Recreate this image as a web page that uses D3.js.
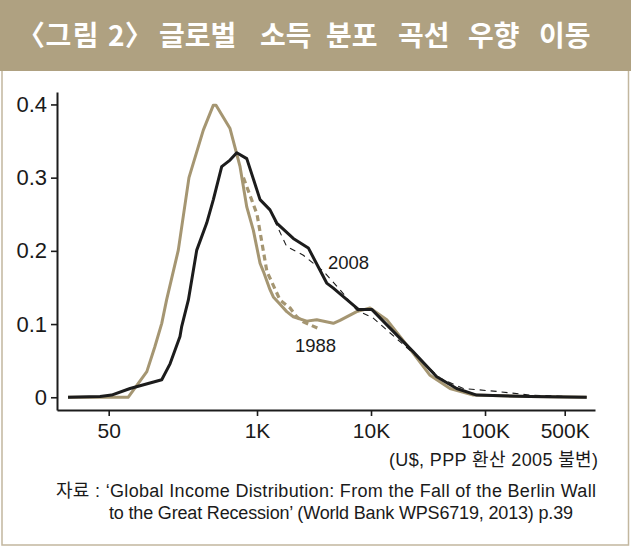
<!DOCTYPE html>
<html>
<head>
<meta charset="utf-8">
<script src="https://cdn.jsdelivr.net/npm/d3@7"></script>
<style>
  html, body { margin: 0; padding: 0; background: #fff; }
  svg { display: block; }
  text { font-family: "Liberation Sans", Arial, "Noto Sans CJK KR", sans-serif; }
</style>
</head>
<body>
<svg id="chart" width="631" height="547"></svg>
<script>
// ---- data (income in US$ PPP 2005, density) ----
const titleTokens = ["〈그림 2〉 ", "글로벌 ", "소득 ", "분포 ", "곡선 ", "우향 ", "이동"];
const unitText = "(U$, PPP 환산 2005 불변)";
const sourceLine1 = "자료 : ‘Global Income Distribution: From the Fall of the Berlin Wall";
const sourceLine2 = "to the Great Recession’ (World Bank WPS6719, 2013) p.39";

const xTickValues = [50, 1000, 10000, 100000, 500000];
const xTickLabels = ["50", "1K", "10K", "100K", "500K"];
const yTickValues = [0, 0.1, 0.2, 0.3, 0.4];
const yTickLabels = ["0", "0.1", "0.2", "0.3", "0.4"];

const income1988 = [22, 74, 108, 127, 146, 161, 204, 253, 338, 414, 437, 580, 710, 813, 929, 1063, 1136, 1300, 1390, 1592, 1823, 2080, 2728, 3340, 4670, 5343, 7493, 9795, 13730, 23500, 32950, 49300, 78900, 248000, 780000];
const density1988 = [0, 0, 0.035, 0.069, 0.101, 0.133, 0.201, 0.300, 0.365, 0.399, 0.399, 0.367, 0.315, 0.260, 0.228, 0.183, 0.172, 0.147, 0.137, 0.127, 0.117, 0.110, 0.104, 0.106, 0.101, 0.105, 0.117, 0.122, 0.106, 0.060, 0.030, 0.012, 0.003, 0.001, 0];

const income2008 = [22, 42, 53, 77, 146, 173, 211, 218, 250, 296, 362, 414, 490, 580, 664, 813, 1063, 1300, 1489, 2080, 2818, 3450, 4085, 4670, 7744, 10140, 23500, 37700, 56400, 84500, 248000, 780000];
const density2008 = [0, 0.001, 0.003, 0.012, 0.024, 0.046, 0.083, 0.096, 0.133, 0.201, 0.238, 0.270, 0.315, 0.324, 0.334, 0.326, 0.270, 0.256, 0.238, 0.217, 0.204, 0.178, 0.156, 0.149, 0.120, 0.120, 0.062, 0.028, 0.012, 0.003, 0.001, 0];

// dashed alternative estimates
const income1988alt = [760, 1000, 1220, 1590, 1950, 2230, 2550, 3450];
const density1988alt = [0.300, 0.250, 0.172, 0.133, 0.122, 0.110, 0.103, 0.094];

const income2008alt = [1300, 1490, 1820, 2550, 3820, 5340, 7490, 10470, 23500, 40300, 64500, 126700, 248000, 780000];
const density2008alt = [0.256, 0.235, 0.206, 0.194, 0.172, 0.147, 0.119, 0.108, 0.060, 0.026, 0.012, 0.008, 0.003, 0];

// ---- drawing ----
const svg = d3.select("#chart");
const W = 631, H = 547;
const tan = "#afa181";
const gold = "#a59672";
const ink = "#1c1c1c";

// panel borders
svg.append("rect").attr("x", 0).attr("y", 0).attr("width", W).attr("height", H).attr("fill", "#fff");
svg.append("path")
  .attr("d", `M2,71 V545 H628.5 V71`)
  .attr("fill", "none").attr("stroke", "#c2b79f").attr("stroke-width", 1.5);

// title banner
svg.append("rect").attr("x", 0).attr("y", 0).attr("width", W).attr("height", 71).attr("fill", tan);
const titleX = [30, 159, 260, 326, 398, 468, 539];
const title = svg.append("text")
  .attr("y", 46)
  .attr("fill", "#fff")
  .style("font-family", "'Noto Sans CJK KR', sans-serif")
  .style("font-weight", 700)
  .style("font-size", "28px")
  .style("font-feature-settings", "'palt' 1");
title.selectAll("tspan").data(titleTokens).join("tspan")
  .attr("x", (d, i) => titleX[i])
  .style("letter-spacing", (d, i) => i === 0 ? "1.5px" : null)
  .text(d => d);

// scales
const x = d3.scaleLog().domain([17.6, 922000]).range([57, 595]);
const y = d3.scaleLinear().domain([-0.0174, 0.417]).range([410, 92]);

// axes
const xAxis = d3.axisBottom(x)
  .tickValues(xTickValues)
  .tickFormat((d, i) => xTickLabels[i])
  .tickSizeInner(6).tickSizeOuter(0).tickPadding(7);
const gx = svg.append("g").attr("transform", `translate(0,${y.range()[0]})`).call(xAxis);
gx.select(".domain").attr("stroke", ink).attr("stroke-width", 2);
gx.selectAll(".tick line").attr("stroke", ink).attr("stroke-width", 1.6);
gx.selectAll(".tick text").attr("fill", "#1a1a1a").style("font-size", "21px")
  .style("font-family", "'Liberation Sans', Arial, sans-serif");

const yAxis = d3.axisLeft(y)
  .tickValues(yTickValues)
  .tickFormat((d, i) => yTickLabels[i])
  .tickSizeInner(6).tickSizeOuter(0).tickPadding(4);
const gy = svg.append("g").attr("transform", `translate(${x.range()[0]},0)`).call(yAxis);
gy.select(".domain").attr("stroke", ink).attr("stroke-width", 2);
gy.selectAll(".tick line").attr("stroke", ink).attr("stroke-width", 1.6);
gy.selectAll(".tick text").attr("fill", "#1a1a1a").style("font-size", "22px")
  .style("font-family", "'Liberation Sans', Arial, sans-serif");

// lines
const line = d3.line().x(d => x(d[0])).y(d => y(d[1])).curve(d3.curveLinear);
const zip = (a, b) => a.map((v, i) => [v, b[i]]);

svg.append("path").datum(zip(income1988alt, density1988alt))
  .attr("d", line).attr("fill", "none").attr("stroke", gold)
  .attr("stroke-width", 3.2).attr("stroke-dasharray", "6,4");

svg.append("path").datum(zip(income1988, density1988))
  .attr("d", line).attr("fill", "none").attr("stroke", gold)
  .attr("stroke-width", 3).attr("stroke-linejoin", "round");

svg.append("path").datum(zip(income2008alt, density2008alt))
  .attr("d", line).attr("fill", "none").attr("stroke", ink)
  .attr("stroke-width", 1.1).attr("stroke-dasharray", "6,5");

svg.append("path").datum(zip(income2008, density2008))
  .attr("d", line).attr("fill", "none").attr("stroke", ink)
  .attr("stroke-width", 3).attr("stroke-linejoin", "round");

// series labels
svg.append("text").attr("x", 328).attr("y", 268.5)
  .attr("fill", "#1a1a1a").style("font-size", "18.5px").text("2008");
svg.append("text").attr("x", 295).attr("y", 352)
  .attr("fill", "#1a1a1a").style("font-size", "18.5px").text("1988");

// unit
svg.append("text").attr("x", 389).attr("y", 466)
  .attr("fill", "#1a1a1a")
  .attr("textLength", 209).attr("lengthAdjust", "spacing")
  .style("font-size", "18px").text(unitText);

// source
svg.append("text").attr("x", 56).attr("y", 497)
  .attr("fill", "#1a1a1a")
  .attr("textLength", 540).attr("lengthAdjust", "spacing")
  .style("font-size", "18px").text(sourceLine1);
svg.append("text").attr("x", 109).attr("y", 519)
  .attr("fill", "#1a1a1a")
  .attr("textLength", 464).attr("lengthAdjust", "spacing")
  .style("font-size", "18px").text(sourceLine2);
</script>
</body>
</html>
